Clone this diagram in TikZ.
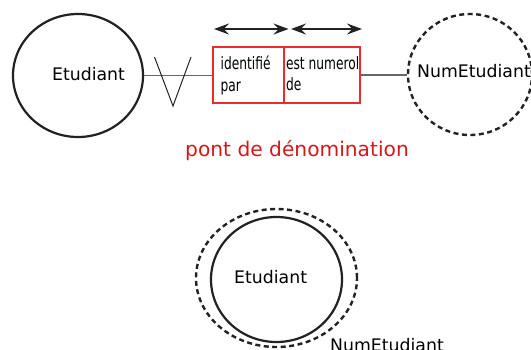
\documentclass[tikz,border=0pt]{standalone}
\usepackage{fontspec}
\setmainfont{DejaVu Sans}
\newfontfamily\narrowfont[FakeStretch=0.72]{DejaVu Sans}
\usetikzlibrary{shapes.geometric,arrows.meta,calc}
\definecolor{ink}{HTML}{222222}
\definecolor{wire}{HTML}{666666}
\definecolor{boxred}{HTML}{EE2B2B}
\definecolor{titlered}{HTML}{D41818}
\tikzset{
  entity/.style={ellipse, draw=ink, line width=2.2pt, inner sep=0pt},
  valueset/.style={ellipse, draw=ink, line width=2.4pt, dash pattern=on 5pt off 3.5pt, inner sep=0pt},
  lbl/.style={inner sep=0pt, font=\fontsize{17.3}{20}\selectfont, text=black},
  celltext/.style={inner sep=0pt, align=left, anchor=north west,
    font=\narrowfont\fontsize{17}{21.5}\selectfont},
  wireline/.style={draw=wire, line width=1.2pt},
  span/.style={draw=ink, line width=1.1pt, {Stealth[length=15pt,width=11pt,inset=5.5pt]}-{Stealth[length=15pt,width=11pt,inset=5.5pt]}},
}
\begin{document}
\begin{tikzpicture}[x=1pt,y=-1pt]
\useasboundingbox (0,0) rectangle (531,349);

% entity and value set, joined through the naming bridge
\node[entity, minimum width=130pt, minimum height=123pt] (etu) at (78,75.5) {};
\node[lbl, anchor=base] (etutext) at (88.5,80) {Etudiant};

\node[valueset, minimum width=124pt, minimum height=121pt] (num) at (470,74.5) {};
\node[lbl, anchor=base west] (numtext) at (417,77.3) {NumEtudiant};

\node[draw=boxred, line width=2pt, minimum width=147pt, minimum height=56pt, inner sep=0pt] (pont) at (286.5,75) {};
\draw[boxred, line width=1.2pt] ($(pont.north west)!0.483!(pont.north east)$) -- ($(pont.south west)!0.483!(pont.south east)$);
\node[celltext] (idpar) at (220.5,55.7) {identifié\\par};
\node[celltext] (estnum) at (285.8,56.1) {est numerol\\de};

\draw[wireline] (etu.east) -- (etu.east -| pont.west);
\draw[wireline] (pont.east) -- (pont.east -| num.west);

% cardinality mark on the entity side
\draw[ink, line width=1pt] (154.5,57) -- (173,106) -- (191,57);

% reading directions above the two cells
\coordinate (r1a) at (214,29);
\coordinate (r1b) at (288.5,29);
\coordinate (r2a) at (291,29);
\coordinate (r2b) at (362,29);
\draw[span] (r1a) -- (r1b);
\draw[span] (r2a) -- (r2b);

\node[inner sep=0pt, anchor=base, text=titlered, font=\fontsize{20.2}{24}\selectfont] (title) at (297,156) {pont de dénomination};

% the same entity drawn inside its value set
\node[valueset, minimum width=161pt, minimum height=138pt] (numset) at (276.5,278) {};
\node[entity, minimum width=131pt, minimum height=125pt] (etuin) at (276.5,279.5) {};
\node[lbl, anchor=base west] (etuintext) at (234,283.3) {Etudiant};
\node[lbl, anchor=base west] (numsettext) at (330,351.4) {NumEtudiant};
\end{tikzpicture}
\end{document}
